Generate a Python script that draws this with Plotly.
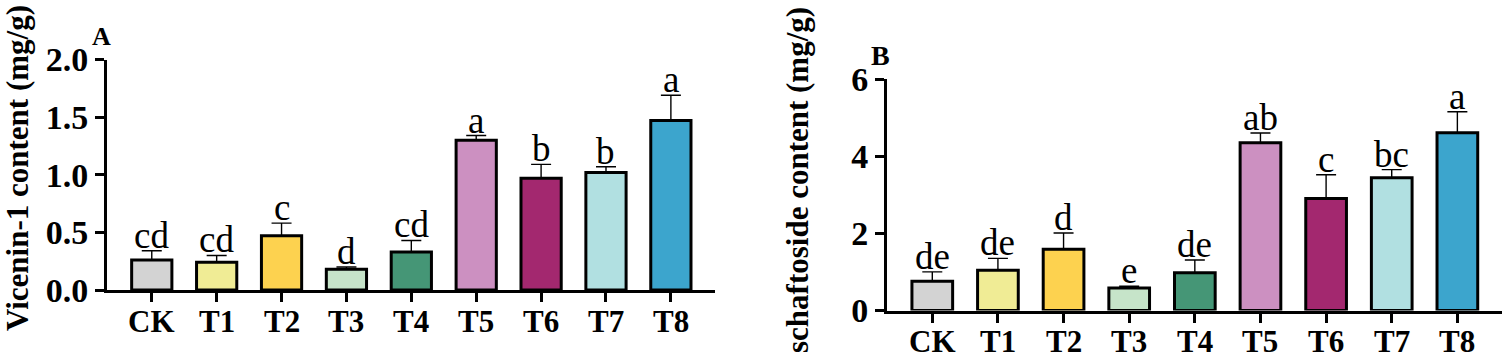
import plotly.graph_objects as go

categories = ["CK", "T1", "T2", "T3", "T4", "T5", "T6", "T7", "T8"]
colors = ["#D3D3D3", "#F0EC95", "#FDD24F", "#C6E4C9", "#459676",
          "#CC90C1", "#A3286F", "#B1E0E1", "#3CA5CD"]

# Panel A: Vicenin-1 content (mg/g)
vicenin_mean = [0.26, 0.24, 0.47, 0.18, 0.33, 1.30, 0.97, 1.02, 1.47]
vicenin_err = [0.08, 0.06, 0.11, 0.02, 0.10, 0.04, 0.12, 0.05, 0.22]
vicenin_letters = ["cd", "cd", "c", "d", "cd", "a", "b", "b", "a"]

# Panel B: schaftoside content (mg/g)
schaft_mean = [0.76, 1.04, 1.59, 0.58, 0.98, 4.35, 2.90, 3.44, 4.61]
schaft_err = [0.24, 0.31, 0.42, 0.05, 0.33, 0.25, 0.62, 0.21, 0.54]
schaft_letters = ["de", "de", "d", "e", "de", "ab", "c", "bc", "a"]

W, H = 1505, 361
SERIF = "Liberation Serif"

fig = go.Figure()

def add_panel(mean, err, xa, ya):
    fig.add_trace(go.Bar(
        x=categories, y=mean, xaxis=xa, yaxis=ya,
        width=0.62,
        marker=dict(color=colors, line=dict(color="black", width=3)),
        error_y=dict(type="data", array=err, arrayminus=[0] * len(err),
                     symmetric=False, color="black", thickness=1.4, width=10),
        showlegend=False,
    ))

add_panel(vicenin_mean, vicenin_err, "x", "y")
add_panel(schaft_mean, schaft_err, "x2", "y2")

annotations = []
for xr, yr, means, errs, letters in (("x", "y", vicenin_mean, vicenin_err, vicenin_letters),
                                     ("x2", "y2", schaft_mean, schaft_err, schaft_letters)):
    for cat, m, e, lab in zip(categories, means, errs, letters):
        annotations.append(dict(x=cat, y=m + e, xref=xr, yref=yr, text=lab,
                                showarrow=False, yanchor="bottom", yshift=-7,
                                font=dict(family=SERIF, size=37, color="black")))
    # category labels under the x axis
    for cat in categories:
        annotations.append(dict(x=cat, y=0, xref=xr, yref=yr,
                                text="<b>" + cat + "</b>",
                                showarrow=False, yanchor="middle", yshift=-31,
                                font=dict(family=SERIF, size=31, color="black")))

# axis titles and panel labels
annotations.append(dict(x=17 / W, y=1 - 168 / H, xref="paper", yref="paper",
                        text="<b>Vicenin-1 content (mg/g)</b>", textangle=-90,
                        showarrow=False, xanchor="center", yanchor="middle",
                        font=dict(family=SERIF, size=31, color="black")))
annotations.append(dict(x=797 / W, y=1 - 180 / H, xref="paper", yref="paper",
                        text="<b>schaftoside content (mg/g)</b>", textangle=-90,
                        showarrow=False, xanchor="center", yanchor="middle",
                        font=dict(family=SERIF, size=31, color="black")))
annotations.append(dict(x=101 / W, y=1 - 36 / H, xref="paper", yref="paper",
                        text="<b>A</b>", showarrow=False, xanchor="center",
                        yanchor="middle",
                        font=dict(family=SERIF, size=26, color="black")))
annotations.append(dict(x=880 / W, y=1 - 56 / H, xref="paper", yref="paper",
                        text="<b>B</b>", showarrow=False, xanchor="center",
                        yanchor="middle",
                        font=dict(family=SERIF, size=28, color="black")))

ytickfont = dict(family=SERIF, size=34, color="black", weight="bold")
xcommon = dict(showline=True, linewidth=3, linecolor="black", ticks="outside",
               ticklen=9, tickwidth=3, tickcolor="black", showticklabels=False,
               showgrid=False, zeroline=False, range=[-0.69, 8.68],
               fixedrange=True, automargin=False)
ycommon = dict(showline=True, linewidth=3, linecolor="black", ticks="outside",
               ticklen=9, tickwidth=3, tickcolor="black", tickfont=ytickfont,
               showgrid=False, zeroline=False, fixedrange=True,
               automargin=False)

fig.update_layout(
    width=W, height=H,
    margin=dict(l=0, r=0, t=0, b=0, autoexpand=False),
    paper_bgcolor="white", plot_bgcolor="white",
    xaxis=dict(domain=[107 / W, 715 / W], anchor="y", **xcommon),
    yaxis=dict(domain=[1 - 290 / H, 1 - 59.5 / H], anchor="x", range=[0, 2.0],
               tickvals=[0, 0.5, 1.0, 1.5, 2.0], tickformat=".1f", **ycommon),
    xaxis2=dict(domain=[887 / W, 1502 / W], anchor="y2", **xcommon),
    yaxis2=dict(domain=[1 - 310.5 / H, 1 - 79 / H], anchor="x2", range=[0, 6],
                tickvals=[0, 2, 4, 6], **ycommon),
    annotations=annotations,
    bargap=0.38,
)

fig.write_html(
    "out.html",
    config={"displayModeBar": False},
    post_script="document.body.style.margin='0';document.body.style.overflow='hidden';",
)
